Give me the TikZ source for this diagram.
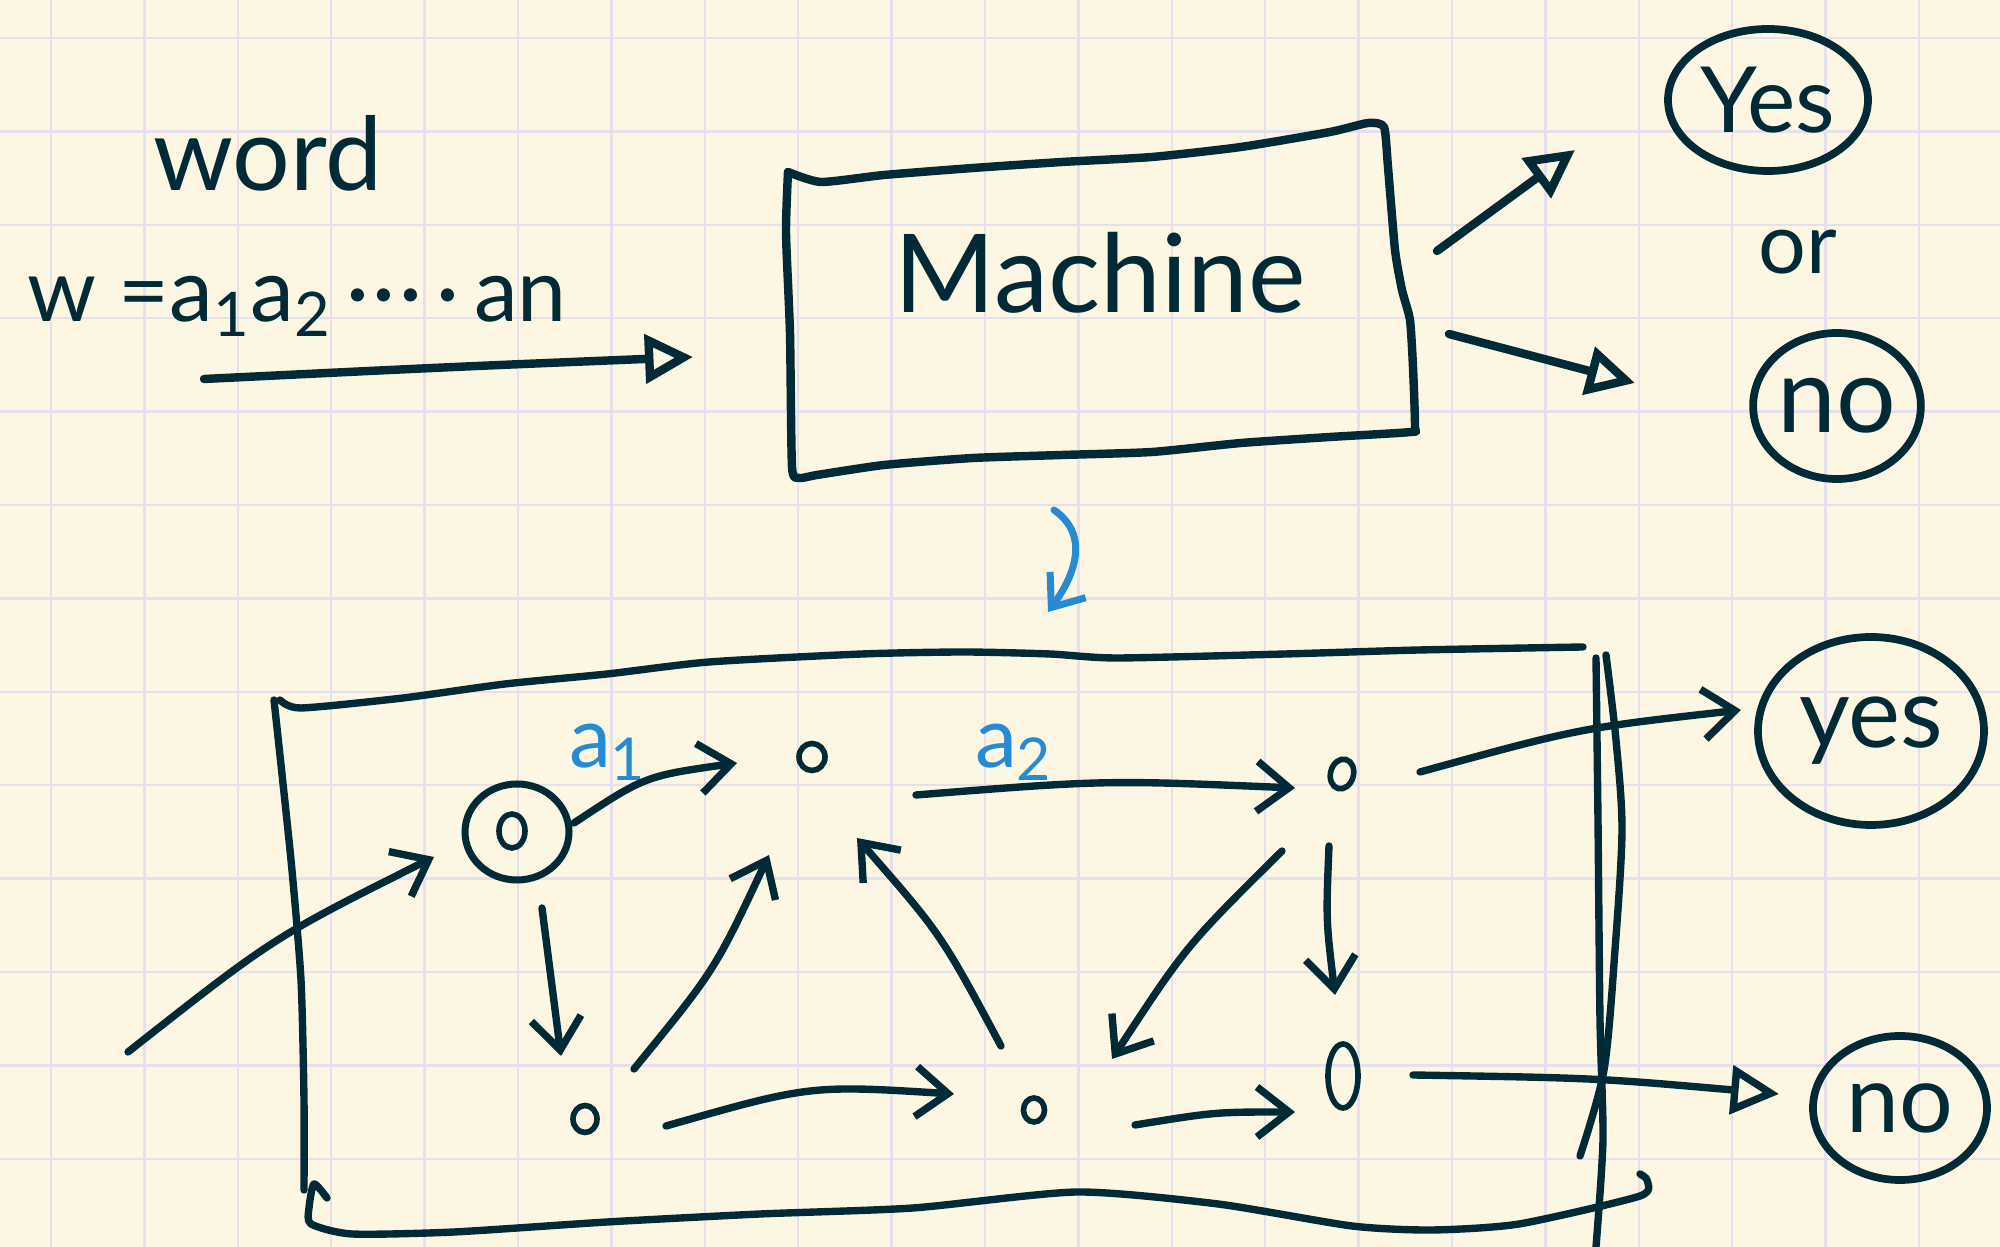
\documentclass[tikz,border=0pt]{standalone}
\usepackage{fontspec}
\setmainfont{Lato}
\usepackage{tikz}
\usepackage{xcolor}
\usetikzlibrary{calc,arrows.meta,positioning,shapes.geometric}
\definecolor{paperCream}{RGB}{253,246,227}
\definecolor{paperGrid}{RGB}{229,223,238}
\definecolor{inkDark}{RGB}{0,43,54}
\definecolor{inkBlue}{RGB}{38,139,210}
\tikzset{
  ink/.style={inkDark,line width=2.4pt,line cap=round,line join=round},
  thinink/.style={inkDark,line width=2.1pt,line cap=round,line join=round},
  openhead/.style={-{Triangle[open,length=4.8mm,width=4.8mm]}},
  barbhead/.style={-{Straight Barb[length=3.2mm,width=5mm]}},
  state/.style={ellipse,draw=inkDark,line width=1.6pt,inner sep=0pt},
  answer/.style={ellipse,draw=inkDark,line width=2.2pt,inner sep=0pt,text=inkDark},
  hand/.style={text=inkDark,anchor=base},
}
\begin{document}
\begin{tikzpicture}[x=0.1mm,y=-0.1mm]
  \useasboundingbox (0,0) rectangle (2000,1247);
  \fill[paperCream] (0,0) rectangle (2000,1247);
  \foreach \k in {0,...,20}
    \draw[paperGrid,line width=0.7pt] ({51+93.4*\k},0) -- ({51+93.4*\k},1247);
  \foreach \k in {0,...,12}
    \draw[paperGrid,line width=0.7pt] (0,{38+93.4*\k}) -- (2000,{38+93.4*\k});

  \node[hand,font=\fontsize{29}{31}\selectfont] (word) at (268,191) {word};
  \node[hand,font=\fontsize{25}{27}\selectfont] (weq) at (297,322)
    {w =a\textsubscript{1}a\textsubscript{2}\,·\kern1pt·\kern1pt·\,·\,an};
  \coordinate (inStart) at (204,379);
  \coordinate (inEnd) at (693,357);
  \draw[ink,openhead] (inStart) .. controls (450,367) .. (inEnd);

  \draw[ink] plot[smooth,tension=0.35] coordinates {(788,172) (821,182) (884,175) (973,168)
    (1062,162) (1152,157) (1241,147) (1330,132) (1368,123) (1384,127) (1388,167) (1395,250)
    (1402,290) (1410,320) (1413,367) (1415,427) (1411,432) (1330,437) (1241,443) (1152,452)
    (1062,455) (973,458) (884,465) (817,475) (799,478) (792,467) (790,333) (786,233) (788,172)};
  \node[hand,font=\fontsize{31}{33}\selectfont] (machine) at (1100,313) {Machine};

  \node[answer,minimum width=20mm,minimum height=14.2mm,font=\fontsize{26}{28}\selectfont] (yesA) at (1768,100) {Yes};
  \node[hand,font=\fontsize{24}{26}\selectfont] (orword) at (1798,274) {or};
  \node[answer,minimum width=16.2mm,minimum height=14.6mm,font=\fontsize{30}{32}\selectfont] (noA) at (1837,406) {no};
  \coordinate (mOutYes) at (1437,251);
  \coordinate (mTipYes) at (1575,150);
  \coordinate (mOutNo) at (1449,334);
  \coordinate (mTipNo) at (1635,383);
  \draw[ink,openhead] (mOutYes) -- (mTipYes);
  \draw[ink,openhead] (mOutNo) -- (mTipNo);

  \coordinate (refTop) at (1054,510);
  \coordinate (refBot) at (1048,612);
  \draw[inkBlue,line width=2pt,line cap=round,-{Straight Barb[length=2.8mm,width=4.4mm]}]
    (refTop) .. controls (1090,535) and (1075,575) .. (refBot);

  \draw[thinink] plot[smooth,tension=0.4] coordinates {(280,700) (301,708) (403,698) (505,684)
    (607,674) (709,662) (862,654) (964,652) (1050,654) (1117,658) (1285,654) (1419,650) (1583,647)};
  \draw[thinink] plot[smooth,tension=0.4] coordinates {(274,700) (291,860) (301,980) (304,1100) (304,1190)};
  \draw[thinink] plot[smooth,tension=0.4] coordinates {(327,1198) (314,1184) (309,1208) (311,1224)
    (352,1234) (454,1232) (607,1222) (760,1214) (913,1208) (1077,1192) (1218,1204) (1352,1226)
    (1432,1230) (1519,1224) (1640,1196) (1647,1180) (1640,1174)};
  \draw[thinink] plot[smooth,tension=0.4] coordinates {(1596,658) (1598,820) (1600,1020) (1603,1140) (1596,1247)};
  \draw[thinink] plot[smooth,tension=0.5] coordinates {(1606,655) (1616,740) (1622,830) (1615,950)
    (1604,1070) (1580,1156)};

  \node[state,minimum width=10.4mm,minimum height=9.6mm,line width=2pt] (s0) at (517,832) {};
  \node[state,minimum width=2.6mm,minimum height=3.4mm] (s0in) at (512,831) {};
  \node[state,minimum width=2.6mm,minimum height=2.7mm] (s1) at (812,757) {};
  \node[state,minimum width=2.3mm,minimum height=3.0mm,rotate=-15] (s2) at (1342,774) {};
  \node[state,minimum width=2.4mm,minimum height=2.7mm] (s3) at (585,1119) {};
  \node[state,minimum width=2.1mm,minimum height=2.4mm] (s4) at (1034,1110) {};
  \node[state,minimum width=3.0mm,minimum height=6.4mm] (s5) at (1343,1076) {};
  \node[answer,minimum width=22.6mm,minimum height=18.8mm,font=\fontsize{28}{30}\selectfont] (yesB) at (1871,731) {yes};
  \node[answer,minimum width=17.4mm,minimum height=14.4mm,font=\fontsize{27}{29}\selectfont] (noB) at (1900,1108) {no};

  \node[text=inkBlue,font=\fontsize{24}{26}\selectfont] (lblA1) at (608,752) {a\textsubscript{1}};
  \node[text=inkBlue,font=\fontsize{24}{26}\selectfont] (lblA2) at (1014,752) {a\textsubscript{2}};

  \coordinate (init) at (128,1052);
  \draw[thinink,barbhead] (init) .. controls (274,937) .. ($(s0)+(-83,25)$);
  \draw[thinink,barbhead] ($(s0)+(57,-9)$) .. controls (645,776) .. ($(s1)+(-75,6)$);
  \draw[thinink,barbhead] ($(s1)+(104,38)$) .. controls (1105,780) .. ($(s2)+(-47,14)$);
  \draw[thinink,barbhead] ($(s0)+(25,76)$) -- ($(s3)+(-24,-63)$);
  \draw[thinink,barbhead] ($(s3)+(49,-50)$) .. controls (715,970) .. ($(s1)+(-43,98)$);
  \draw[thinink,barbhead] ($(s4)+(-33,-64)$) .. controls (941,934) .. ($(s1)+(45,81)$);
  \draw[thinink,barbhead] ($(s3)+(81,7)$) .. controls (810,1085) .. ($(s4)+(-80,-16)$);
  \draw[thinink,barbhead] ($(s2)+(-60,77)$) .. controls (1186,946) .. ($(s4)+(78,-51)$);
  \draw[thinink,barbhead] ($(s2)+(-13,72)$) .. controls (1326,920) .. ($(s5)+(-8,-81)$);
  \draw[thinink,barbhead] ($(s4)+(101,15)$) .. controls (1215,1112) .. ($(s5)+(-48,36)$);
  \draw[thinink,barbhead] ($(s2)+(78,-2)$) .. controls (1580,728) .. ($(yesB)+(-130,-21)$);
  \draw[thinink,openhead] ($(s5)+(70,-1)$) .. controls (1596,1078) .. ($(noB)+(-121,-14)$);
\end{tikzpicture}
\end{document}
